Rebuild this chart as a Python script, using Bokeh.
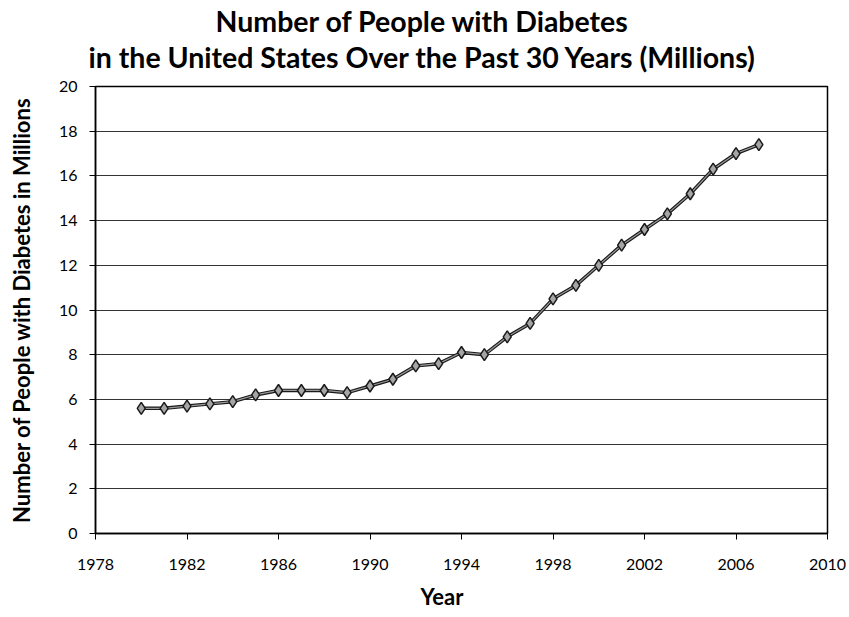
from bokeh.plotting import figure
from bokeh.models import FixedTicker, Title
from bokeh.embed import file_html
from bokeh.resources import INLINE

years = [1980, 1981, 1982, 1983, 1984, 1985, 1986, 1987, 1988, 1989,
         1990, 1991, 1992, 1993, 1994, 1995, 1996, 1997, 1998, 1999,
         2000, 2001, 2002, 2003, 2004, 2005, 2006, 2007]
people = [5.6, 5.6, 5.7, 5.8, 5.9, 6.2, 6.4, 6.4, 6.4, 6.3,
          6.6, 6.9, 7.5, 7.6, 8.1, 8.0, 8.8, 9.4, 10.5, 11.1,
          12.0, 12.9, 13.6, 14.3, 15.2, 16.3, 17.0, 17.4]
x_ticks = [1978, 1982, 1986, 1990, 1994, 1998, 2002, 2006, 2010]
y_ticks = [0, 2, 4, 6, 8, 10, 12, 14, 16, 18, 20]

title_line1 = "Number of People with Diabetes"
title_line2 = "in the United States Over the Past 30 Years (Millions)"
x_title = "Year"
y_title = "Number of People with Diabetes in Millions"
FONT = "Lato"

p = figure(width=849, height=617, output_backend="svg", toolbar_location=None,
           x_range=(1978, 2010), y_range=(0, 20),
           min_border_left=95, min_border_right=22, min_border_bottom=83, min_border_top=86)
p.title = None

t2 = Title(text=title_line2, align="left", text_font=FONT, text_font_size="28.5px",
           text_font_style="bold", text_color="black", standoff=25, offset=-7)
t1 = Title(text=title_line1, align="left", text_font=FONT, text_font_size="28.5px",
           text_font_style="bold", text_color="black", standoff=-25, offset=120)
p.add_layout(t2, "above")
p.add_layout(t1, "above")

p.background_fill_color = "white"
p.border_fill_color = "white"
p.outline_line_color = "black"
p.outline_line_width = 1.5

p.xgrid.grid_line_color = None
p.ygrid.grid_line_color = "#333333"
p.ygrid.grid_line_width = 1

p.xaxis.ticker = FixedTicker(ticks=x_ticks)
p.yaxis.ticker = FixedTicker(ticks=y_ticks)
for ax in (p.xaxis, p.yaxis):
    ax.axis_line_color = "black"
    ax.axis_line_width = 1.5
    ax.major_tick_line_color = "black"
    ax.major_tick_in = 0
    ax.major_tick_out = 6
    ax.minor_tick_line_color = None
    ax.major_label_text_font = FONT
    ax.major_label_text_font_size = "16px"
    ax.major_label_text_color = "black"
    ax.axis_label_text_font = FONT
    ax.axis_label_text_font_style = "bold"
    ax.axis_label_text_color = "black"

p.xaxis.major_label_standoff = 19
p.yaxis.axis_label = y_title
p.yaxis.axis_label_text_font_size = "22px"
p.yaxis.major_label_standoff = 12
p.yaxis.axis_label_standoff = 21

tx = Title(text=x_title, align="left", text_font=FONT, text_font_size="22px",
           text_font_style="bold", text_color="black", standoff=16, offset=325)
p.add_layout(tx, "below")

p.line(years, people, line_color="#1a1a1a", line_width=3.5)
p.line(years, people, line_color="#9a9a9a", line_width=1.2)
p.scatter(years, people, marker="diamond", size=12, fill_color="#a5a5a5",
          line_color="#1a1a1a", line_width=1.5)

open("out.html", "w").write(file_html(p, INLINE))
